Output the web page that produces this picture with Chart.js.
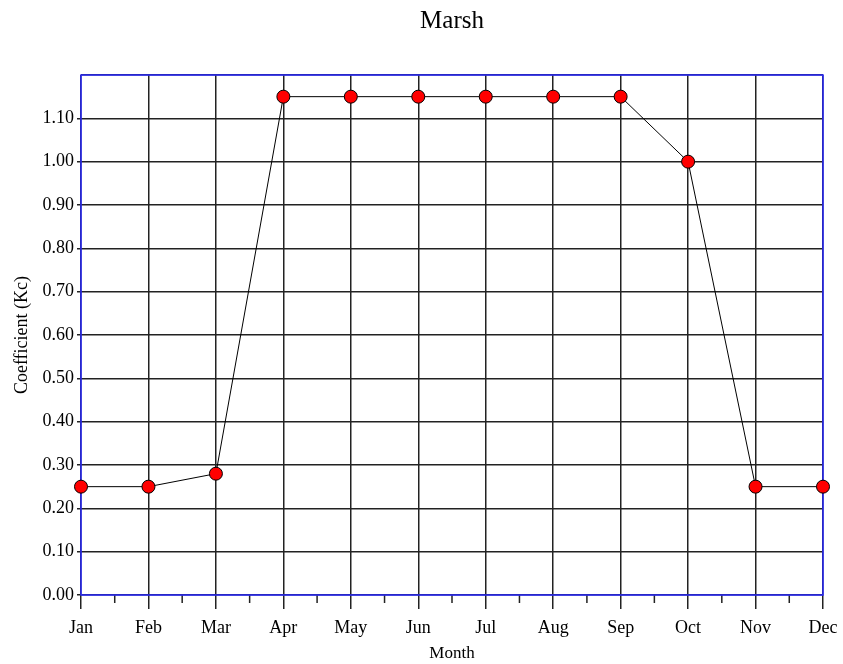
<!DOCTYPE html>
<html lang="en">
<head>
    <meta charset="UTF-8">
    <title>Marsh</title>
    <script src="https://cdn.jsdelivr.net/npm/chart.js@4.4.0/dist/chart.umd.min.js"></script>
    <style>
        body { margin: 0; background: #fff; }
    </style>
</head>
<body>
    <canvas id="myChart" width="843" height="664"></canvas>
    <script>
        var months = ["Jan", "Feb", "Mar", "Apr", "May", "Jun", "Jul", "Aug", "Sep", "Oct", "Nov", "Dec"];
        var kc = [0.25, 0.25, 0.28, 1.15, 1.15, 1.15, 1.15, 1.15, 1.15, 1.00, 0.25, 0.25];

        var points = [];
        for (i = 0; i < months.length; i++) {
            points.push({x: i, y: kc[i]});
        }

        var serif = "'Liberation Serif', 'DejaVu Serif', serif";

        // blue frame round the plot, plus the short ticks between months
        var frame = {
            id: 'frame',
            beforeDatasetsDraw: function(chart) {
                var a = chart.chartArea;
                var ctx = chart.ctx;
                var xs = chart.scales.x;
                ctx.save();
                ctx.strokeStyle = '#222';
                ctx.lineWidth = 1.5;
                ctx.beginPath();
                for (i = 0; i < months.length - 1; i++) {
                    var px = xs.getPixelForValue(i + 0.5);
                    ctx.moveTo(px, a.bottom);
                    ctx.lineTo(px, a.bottom + 8);
                }
                ctx.stroke();
                ctx.strokeStyle = '#2a2aff';
                ctx.lineWidth = 1.5;
                ctx.strokeRect(a.left, a.top, a.right - a.left, a.bottom - a.top);
                ctx.restore();
            }
        };

        var chart = new Chart(document.getElementById("myChart"), {
            type: 'line',
            data: {
                datasets: [{
                    label: 'Kc',
                    data: points,
                    clip: false,
                    borderColor: '#000',
                    borderWidth: 1,
                    backgroundColor: '#ff0000',
                    pointBackgroundColor: '#ff0000',
                    pointBorderColor: '#000',
                    pointBorderWidth: 1,
                    pointRadius: 6.5,
                    tension: 0
                }]
            },
            options: {
                responsive: false,
                animation: false,
                layout: {padding: {left: 10, right: 20, top: 0, bottom: 0}},
                plugins: {
                    legend: {display: false},
                    tooltip: {enabled: false},
                    title: {
                        display: true,
                        fullSize: false,
                        text: 'Marsh',
                        color: '#000',
                        font: {family: serif, size: 25, weight: 'normal'},
                        padding: {top: 6, bottom: 39}
                    }
                },
                scales: {
                    x: {
                        type: 'linear',
                        min: 0,
                        max: 11,
                        afterFit: function(s) {
                            s.height = 69;
                            s.paddingLeft = 0;
                            s.paddingRight = 0;
                        },
                        border: {display: false},
                        grid: {color: '#222', lineWidth: 1.5, tickLength: 14, tickColor: '#222'},
                        ticks: {
                            stepSize: 1,
                            autoSkip: false,
                            maxRotation: 0,
                            padding: 8,
                            color: '#000',
                            font: {family: serif, size: 18},
                            callback: function(v) { return months[v]; }
                        },
                        title: {
                            display: true,
                            text: 'Month',
                            color: '#000',
                            font: {family: serif, size: 17},
                            padding: {top: 0, bottom: 0}
                        }
                    },
                    y: {
                        min: 0,
                        max: 1.2,
                        afterFit: function(s) { s.width = 71; },
                        border: {display: false},
                        grid: {
                            color: '#222',
                            lineWidth: 1.5,
                            tickLength: 4,
                            tickColor: function(c) { return c.tick && c.tick.value > 1.15 ? 'rgba(0,0,0,0)' : '#222'; }
                        },
                        ticks: {
                            stepSize: 0.1,
                            padding: 3,
                            color: '#000',
                            font: {family: serif, size: 18},
                            callback: function(v) { return v > 1.15 ? '' : v.toFixed(2); }
                        },
                        title: {
                            display: true,
                            text: 'Coefficient (Kc)',
                            color: '#000',
                            font: {family: serif, size: 18},
                            padding: {top: 1, bottom: 0}
                        }
                    }
                }
            },
            plugins: [frame]
        });
    </script>
</body>
</html>
